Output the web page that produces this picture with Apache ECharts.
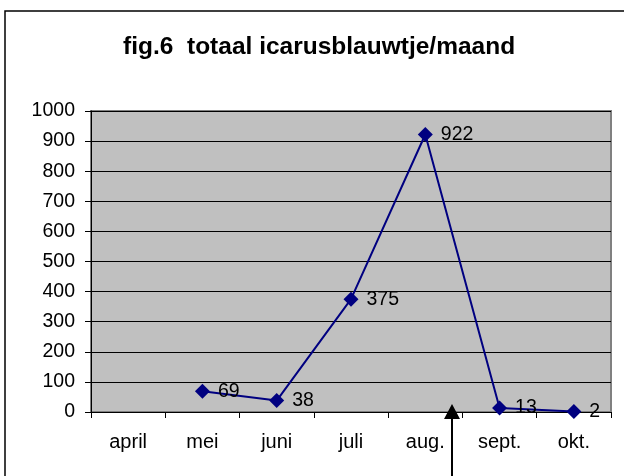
<!DOCTYPE html>
<html style="height: 100%">
<head>
    <meta charset="UTF-8">
    <title>fig.6 totaal icarusblauwtje/maand</title>
    <script src="https://cdn.jsdelivr.net/npm/echarts/dist/echarts.min.js"></script>
</head>
<body style="height: 100%; margin: 0; background: #fff">
    <div id="main" style="width: 624px; height: 476px"></div>
    <script type="text/javascript">
        // maanden en aantallen
        var maanden = ['april', 'mei', 'juni', 'juli', 'aug.', 'sept.', 'okt.'];
        var aantallen = [null, 69, 38, 375, 922, 13, 2];
        var yTicks = [0, 100, 200, 300, 400, 500, 600, 700, 800, 900, 1000];

        var myChart = echarts.init(document.getElementById('main'));

        var font = 'Arial, Liberation Sans, sans-serif';

        var option = {
            animation: false,
            title: {
                text: 'fig.6  totaal icarusblauwtje/maand',
                left: 118,
                top: 30,
                textStyle: { fontFamily: font, fontSize: 24.5, fontWeight: 'bold', color: '#000' }
            },
            grid: { left: 91, right: 13, top: 111, bottom: 64, show: true, backgroundColor: '#c0c0c0', borderWidth: 2, borderColor: '#808080' },
            xAxis: {
                type: 'category',
                data: maanden,
                boundaryGap: true,
                axisLine: { lineStyle: { color: '#000', width: 1 } },
                axisTick: { show: true, length: 6, lineStyle: { color: '#000' } },
                axisLabel: { color: '#000', fontFamily: font, fontSize: 20, margin: 20 }
            },
            yAxis: {
                type: 'value',
                min: yTicks[0],
                max: yTicks[yTicks.length - 1],
                interval: 100,
                axisLine: { show: true, lineStyle: { color: '#000' } },
                axisTick: { show: true, length: 6, lineStyle: { color: '#000' } },
                axisLabel: {
                    color: '#000', fontFamily: font, fontSize: 19.5, margin: 16,
                    formatter: function (v) { return String(v); }
                },
                splitLine: { lineStyle: { color: '#000', width: 1 } }
            },
            series: [{
                type: 'line',
                data: aantallen,
                connectNulls: false,
                symbol: 'diamond',
                symbolSize: 15,
                itemStyle: { color: '#000080' },
                lineStyle: { color: '#000080', width: 2 },
                label: {
                    show: true,
                    position: 'right',
                    distance: 8,
                    color: '#000',
                    fontFamily: font,
                    fontSize: 19.5
                }
            }],
            graphic: [
                {
                    // kader loopt buiten het beeld door (rechts en onder)
                    type: 'rect',
                    shape: { x: 5, y: 11, width: 700, height: 600 },
                    style: { fill: null, stroke: '#000', lineWidth: 1.5 },
                    z: -1
                },
                {
                    type: 'line',
                    shape: { x1: 452, y1: 476, x2: 452, y2: 416 },
                    style: { stroke: '#000', lineWidth: 2 },
                    z: 10
                },
                {
                    type: 'polygon',
                    shape: { points: [[452, 404], [444, 419], [460, 419]] },
                    style: { fill: '#000' },
                    z: 10
                }
            ]
        };

        myChart.setOption(option);
    </script>
</body>
</html>
